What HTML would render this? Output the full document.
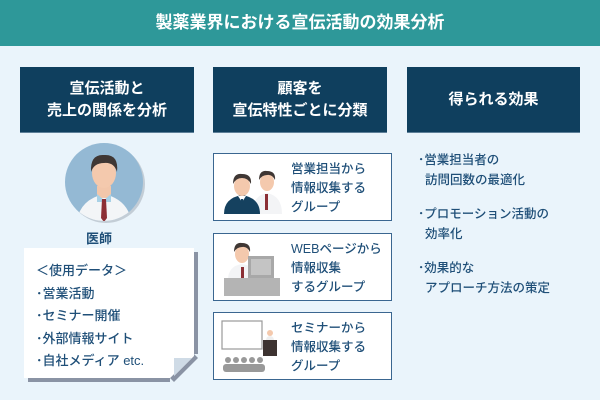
<!DOCTYPE html>
<html><head><meta charset="utf-8"><style>
*{margin:0;padding:0;box-sizing:border-box}
body{width:600px;height:400px;background:#eaf4fb;position:relative;overflow:hidden;font-family:"Liberation Sans","Noto Sans CJK JP",sans-serif;}
.hdr{position:absolute;left:0;top:0;width:600px;height:46px;background:#2e9899;color:#fff;font-size:17px;font-weight:bold;text-align:center;line-height:46px}
.h{position:absolute;top:67px;height:66px;background:#0f3f5e;color:#fff;font-size:15px;font-weight:bold;text-align:center;display:flex;align-items:center;justify-content:center;line-height:22px;border-bottom:1px solid #5d7f98}
.card{position:absolute;left:213px;width:179px;height:68px;background:#fff;border:1.5px solid #3a6690;}
.card .t{position:absolute;left:77px;top:6px;font-size:12.5px;line-height:19px;color:#1f4f78;font-weight:500}
.r{position:absolute;left:418px;font-size:12.5px;line-height:20px;color:#1f4f78;font-weight:500}
.note{position:absolute;left:24px;top:248px;width:170px;height:130px;background:#fff;box-shadow:4px 4px 0 #8a93a4}
.note .t{position:absolute;left:12px;top:12px;font-size:13px;line-height:22.5px;color:#1f4f78;font-weight:500}
</style></head><body>
<div class="hdr">製薬業界における宣伝活動の効果分析</div>
<div class="h" style="left:20px;width:174px">宣伝活動と<br>売上の関係を分析</div>
<div class="h" style="left:213px;width:174px">顧客を<br>宣伝特性ごとに分類</div>
<div class="h" style="left:407px;width:173px">得られる効果</div>

<svg style="position:absolute;left:64px;top:142px" width="84" height="84" viewBox="0 0 84 84">
<defs><clipPath id="c"><circle cx="40" cy="40" r="39"/></clipPath></defs>
<circle cx="42" cy="42" r="39" fill="#c3cdd6"/>
<circle cx="40" cy="40" r="39" fill="#94b9d4"/>
<g clip-path="url(#c)">
<path d="M12 84 Q14 58 40 52 Q66 58 68 84Z" fill="#f3f5f7"/>
<rect x="33" y="44" width="14" height="12" fill="#f2c6aa"/>
<path d="M33 52 L40 58 L47 52 L47 60 L33 60Z" fill="#a8d1e6"/>
<path d="M38 57 L42 57 L43 76 L40 80 L37 76Z" fill="#8c2f35"/>
<ellipse cx="40" cy="31" rx="12" ry="15" fill="#f4c9ad"/>
<path d="M27 30 Q26 12 40 13 Q55 12 53 30 Q50 20 40 21 Q30 21 27 30Z" fill="#3f3734"/>
</g></svg>
<div style="position:absolute;left:86px;top:228px;font-size:13px;font-weight:bold;color:#1f4f78">医師</div>

<div class="note"><div class="t">＜使用データ＞<br>･営業活動<br>･セミナー開催<br>･外部情報サイト<br>･自社メディア etc.</div></div>
<svg style="position:absolute;left:170px;top:354px" width="30" height="30" viewBox="0 0 30 30">
<polygon points="0,24 24,0 30,0 30,30 0,30" fill="#eaf4fb"/>
<polygon points="0,24 24,0 28,4 4,28" fill="#8a93a4"/>
<polygon points="0,24 24,0 0,0" fill="#fff"/>
<polygon points="0,24 24,0 24,0 0,24 2,2" fill="#fff"/>
<polygon points="4,0 24,0 4,20" fill="#fff"/>
<polygon points="4,20 24,0 24,2 4,22" fill="#fff"/>
<polygon points="4,4 22,4 4,22" fill="#cfdbe6"/>
</svg>

<div class="card" style="top:153px">
<svg style="position:absolute;left:8px;top:8px" width="68" height="52" viewBox="0 0 68 52">
<path d="M30 52 Q30 34 45 31 Q60 34 60 52Z" fill="#f3f4f6"/><rect x="43" y="32" width="3" height="16" fill="#8c2f35"/>
<ellipse cx="45" cy="20" rx="7" ry="9" fill="#f4c9ad"/><path d="M37 18 Q37 8 45 9 Q54 9 53 18 Q50 12 45 13 Q40 13 37 18Z" fill="#3f3734"/>
<path d="M2 52 Q2 36 20 33 Q38 36 38 52Z" fill="#15415f"/><path d="M16 34 L20 40 L24 34Z" fill="#fff"/><rect x="19" y="37" width="2" height="12" fill="#15415f"/>
<ellipse cx="20" cy="24" rx="8" ry="10" fill="#f4c9ad"/><path d="M11 22 Q11 11 20 12 Q30 12 29 22 Q26 16 20 16 Q14 16 11 22Z" fill="#3f3734"/>
</svg>
<div class="t">営業担当から<br>情報収集する<br>グループ</div></div>

<div class="card" style="top:233px">
<svg style="position:absolute;left:10px;top:6px" width="68" height="56" viewBox="0 0 68 56">
<path d="M4 40 Q4 26 18 24 Q32 26 32 40Z" fill="#f3f4f6"/><rect x="17" y="27" width="3" height="12" fill="#8c2f35"/>
<ellipse cx="18" cy="14" rx="7" ry="9" fill="#f4c9ad"/><path d="M10 12 Q10 2 18 3 Q27 3 26 12 Q23 6 18 7 Q13 7 10 12Z" fill="#3f3734"/>
<rect x="24" y="16" width="26" height="22" fill="#a8a8a8"/><rect x="27" y="19" width="20" height="16" fill="#c4c4c4"/>
<rect x="0" y="38" width="56" height="18" fill="#b4b4b4"/>
</svg>
<div class="t" style="left:77px">WEBページから<br>情報収集<br>するグループ</div></div>

<div class="card" style="top:312px">
<svg style="position:absolute;left:6px;top:6px" width="70" height="56" viewBox="0 0 70 56">
<rect x="2" y="2" width="40" height="28" fill="#fff" stroke="#999" stroke-width="1.2"/>
<circle cx="50" cy="14" r="3" fill="#f4c9ad"/><path d="M46 22 Q46 17 50 17 Q54 17 54 22Z" fill="#eee"/>
<rect x="43" y="21" width="14" height="16" fill="#3d3331"/>
<g fill="#999"><circle cx="8" cy="41" r="3"/><circle cx="16" cy="41" r="3"/><circle cx="24" cy="41" r="3"/><circle cx="32" cy="41" r="3"/><circle cx="40" cy="41" r="3"/>
<rect x="3" y="45" width="42" height="8" rx="3"/></g></svg>
<div class="t">セミナーから<br>情報収集する<br>グループ</div></div>

<div class="r" style="top:150px">･営業担当者の<br>&nbsp;&nbsp;訪問回数の最適化</div>
<div class="r" style="top:204px">･プロモーション活動の<br>&nbsp;&nbsp;効率化</div>
<div class="r" style="top:258px">･効果的な<br>&nbsp;&nbsp;アプローチ方法の策定</div>
</body></html>
